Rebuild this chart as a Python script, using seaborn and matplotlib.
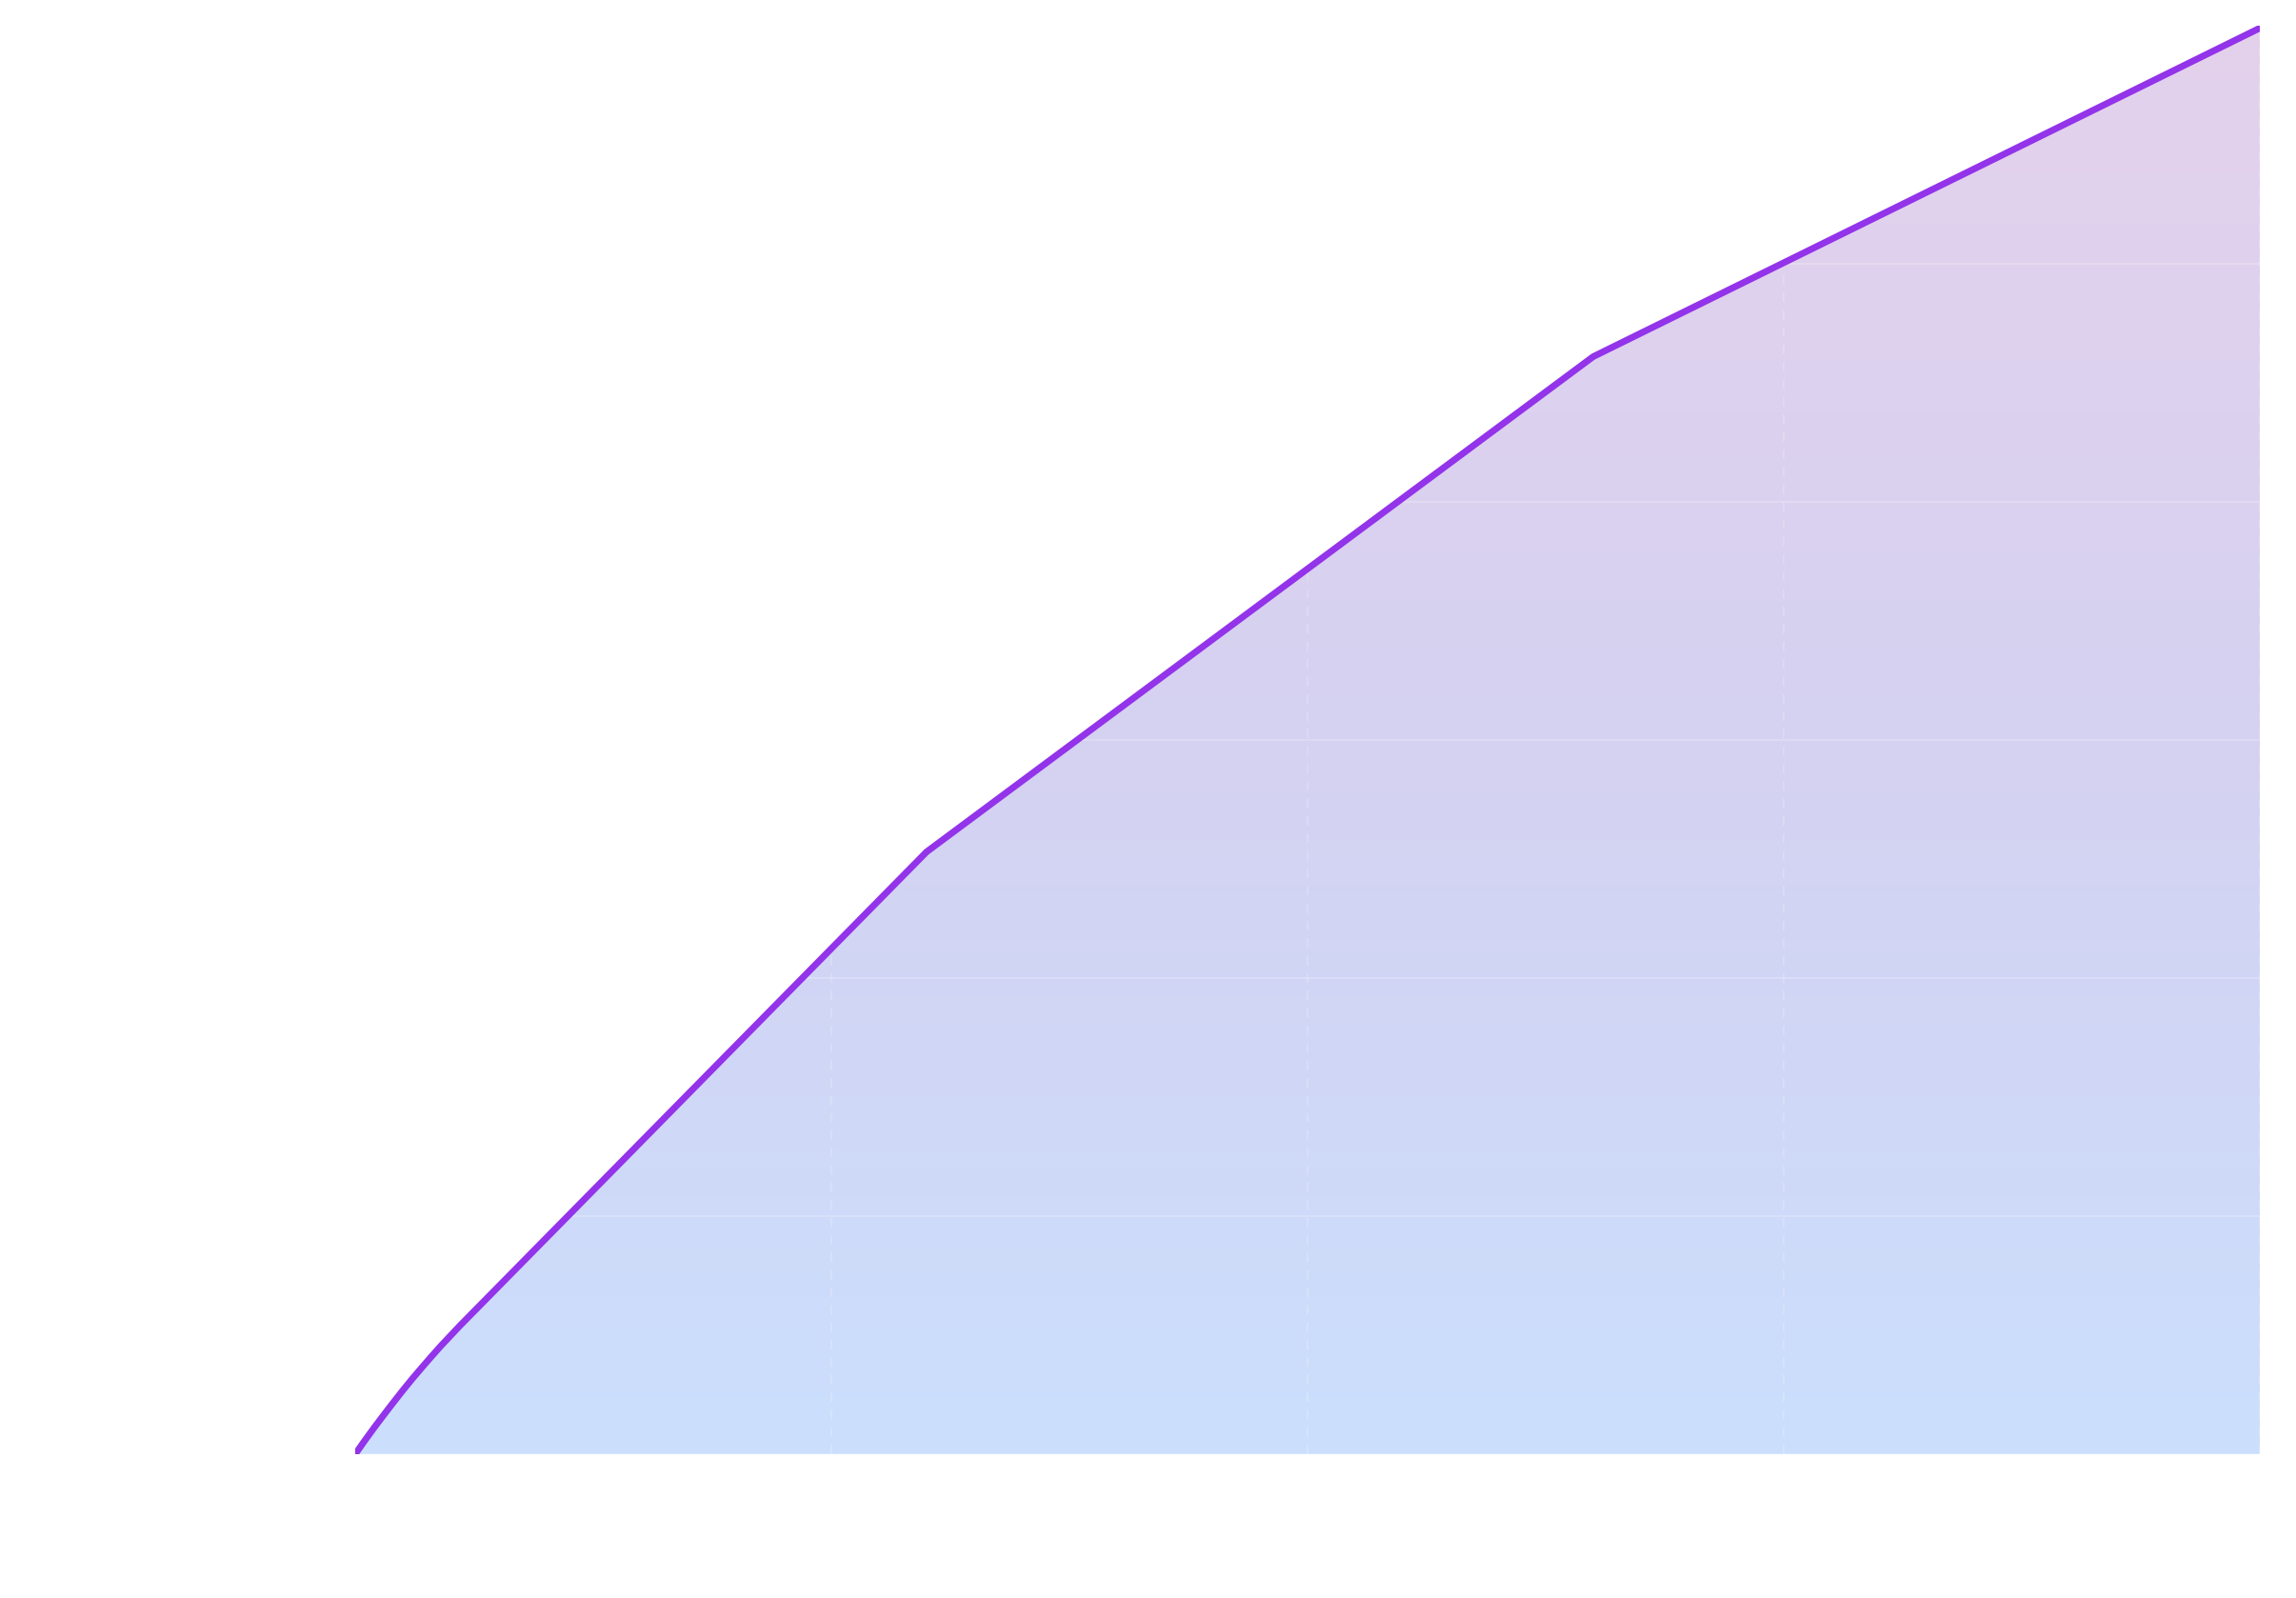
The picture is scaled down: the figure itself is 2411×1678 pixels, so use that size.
import numpy as np
import pandas as pd
import matplotlib
matplotlib.use("Agg")
import matplotlib.pyplot as plt
import seaborn as sns
from matplotlib.colors import LinearSegmentedColormap

# Data (x in grid units 0..4, y in grid units 0..6)
x_vals = [0.0, 0.02, 0.04, 0.06, 0.08, 0.10, 0.12, 0.14, 0.16, 0.18, 0.22, 1.2, 2.6, 4.0]
y_vals = [0.0, 0.057, 0.112, 0.165, 0.217, 0.268, 0.317, 0.364, 0.41, 0.455, 0.54, 2.53, 4.61, 5.99]
x_grid = [0, 1, 2, 3, 4]
y_grid = [0, 1, 2, 3, 4, 5, 6]

df = pd.DataFrame({"x": x_vals, "y": y_vals})

sns.set_theme(style="white")
fig = plt.figure(figsize=(24.11, 16.78), dpi=100)
ax = fig.add_axes([373 / 2411, 151 / 1678, 2000 / 2411, 1500 / 1678])

ax.set_xlim(x_grid[0], x_grid[-1])
ax.set_ylim(y_grid[0], y_grid[-1])

# gradient fill under the curve
poly = ax.fill_between(df["x"], df["y"], 0, facecolor="none", edgecolor="none")
cmap = LinearSegmentedColormap.from_list(
    "grad", [(203 / 255, 223 / 255, 253 / 255), (213 / 255, 209 / 255, 241 / 255), (228 / 255, 210 / 255, 236 / 255)]
)
grad = np.linspace(0, 1, 256).reshape(-1, 1)
img = ax.imshow(grad, cmap=cmap, origin="lower", aspect="auto",
                extent=[x_grid[0], x_grid[-1], y_grid[0], y_grid[-1]], zorder=1,
                interpolation="bicubic")
path = poly.get_paths()[0]
img.set_clip_path(path, ax.transData)

# grid
ax.set_xticks(x_grid)
ax.set_yticks(y_grid)
ax.set_axisbelow(False)
ax.yaxis.grid(True, color="white", alpha=0.25, lw=1.2, ls="-")
ax.xaxis.grid(True, color="white", alpha=0.22, lw=1.2, ls=(0, (6, 5)))

sns.lineplot(data=df, x="x", y="y", ax=ax, color="#9333ea", lw=5.0, sort=False,
             solid_capstyle="round", solid_joinstyle="round", zorder=3)

ax.set_xlim(x_grid[0], x_grid[-1])
ax.set_ylim(y_grid[0], y_grid[-1])
ax.set_xlabel("")
ax.set_ylabel("")
ax.tick_params(length=0, labelbottom=False, labelleft=False)
for s in ax.spines.values():
    s.set_visible(False)
ax.set_facecolor("white")

fig.savefig("out.png", dpi=100, facecolor="white")
